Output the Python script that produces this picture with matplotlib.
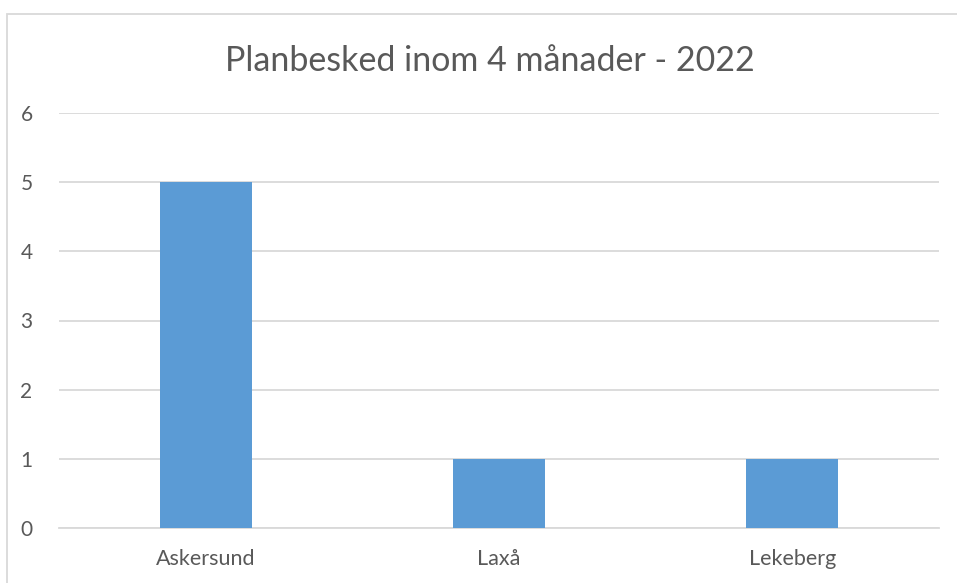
import matplotlib.pyplot as plt
from matplotlib.patches import Rectangle

kommuner = ["Askersund", "Laxå", "Lekeberg"]
antal = [5, 1, 1]
yticks = [0, 1, 2, 3, 4, 5, 6]

plt.rcParams['font.family'] = ['Lato', 'DejaVu Sans']
text_color = "#595959"

fig = plt.figure(figsize=(9.57, 5.83), dpi=100)
ax = fig.add_axes([59 / 957, 55 / 583, 880 / 957, 415 / 583])

x = range(len(kommuner))
ax.bar(x, antal, width=0.313, color="#5B9BD5", zorder=3)

ax.set_xlim(-0.5, len(kommuner) - 0.5)
ax.set_ylim(0, 6)
ax.set_yticks(yticks)
ax.set_xticks(list(x))
ax.set_xticklabels(kommuner)
ax.grid(axis="y", color="#D9D9D9", linewidth=1.3, zorder=0)
ax.tick_params(axis="y", length=0, pad=19, labelsize=15, labelcolor=text_color)
ax.tick_params(axis="x", length=0, pad=15, labelsize=15.5, labelcolor=text_color)
for s in ["top", "right", "left"]:
    ax.spines[s].set_visible(False)
ax.spines["bottom"].set_color("#D9D9D9")
ax.spines["bottom"].set_linewidth(1.3)

fig.text(490 / 957, 1 - 61 / 583, "Planbesked inom 4 månader - 2022",
         ha="center", va="center", fontsize=24.5, color=text_color)

# ram runt diagrammet
fig.patches.append(Rectangle((7 / 957, -0.1), 1.2, 1 - 14 / 583 + 0.1,
                             transform=fig.transFigure, fill=False,
                             edgecolor="#D9D9D9", linewidth=1.3))

fig.savefig("out.png", dpi=100)
